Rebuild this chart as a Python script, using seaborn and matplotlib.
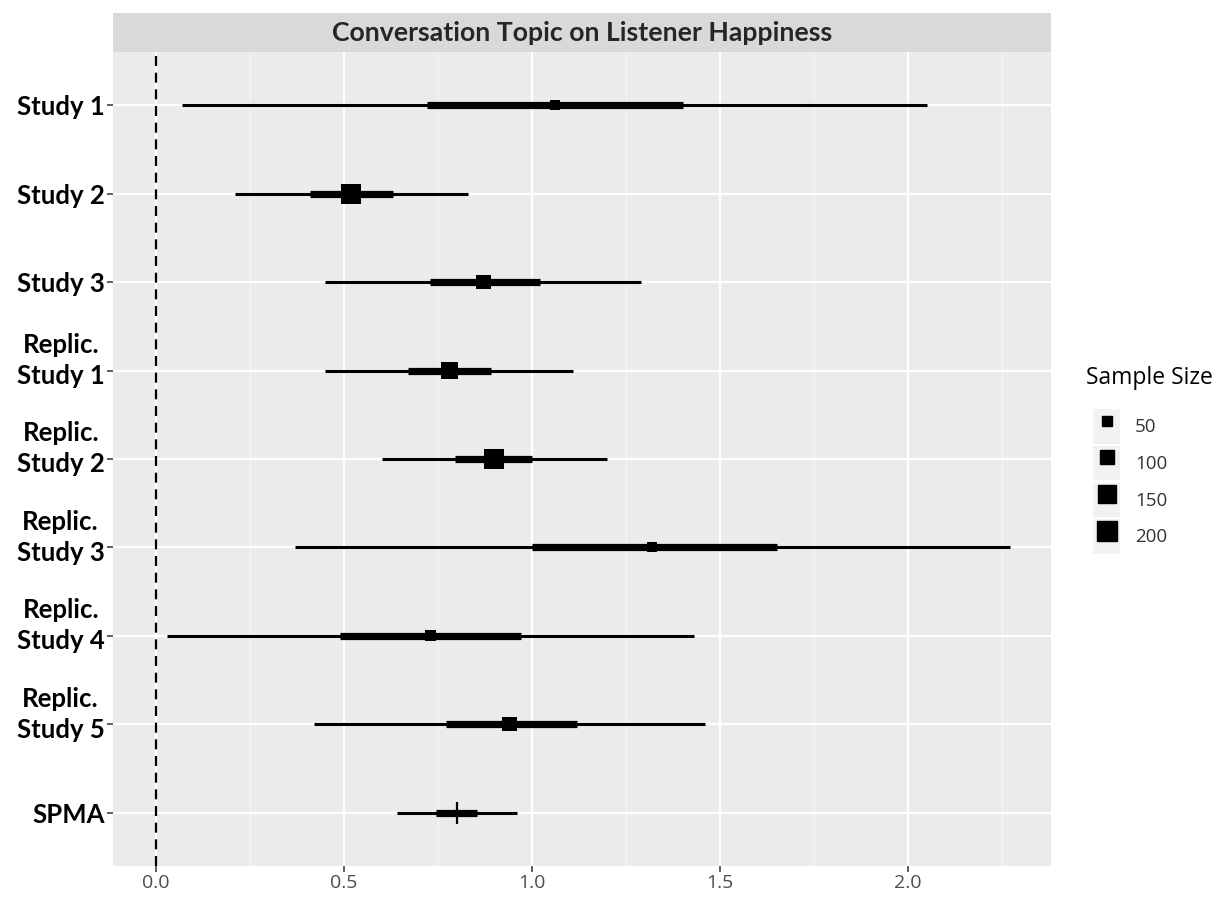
import numpy as np
import pandas as pd
import matplotlib.pyplot as plt
import seaborn as sns
from matplotlib.lines import Line2D
from matplotlib.patches import Rectangle, Patch
from matplotlib.legend_handler import HandlerTuple

# values
studies = ['Study 1', 'Study 2', 'Study 3', 'Replic.\nStudy 1', 'Replic.\nStudy 2',
           'Replic.\nStudy 3', 'Replic.\nStudy 4', 'Replic.\nStudy 5', 'SPMA']
estimate = [1.06, 0.52, 0.87, 0.78, 0.90, 1.32, 0.73, 0.94, 0.80]
ci95_low = [0.07, 0.21, 0.45, 0.45, 0.60, 0.37, 0.03, 0.42, 0.64]
ci95_high = [2.05, 0.83, 1.29, 1.11, 1.20, 2.27, 1.43, 1.46, 0.96]
ci50_low = [0.72, 0.41, 0.73, 0.67, 0.795, 1.00, 0.49, 0.77, 0.745]
ci50_high = [1.40, 0.63, 1.02, 0.89, 1.00, 1.65, 0.97, 1.12, 0.855]
sample_size = [40, 200, 110, 150, 210, 50, 60, 100, np.nan]
legend_sizes = [50, 100, 150, 200]
x_ticks = [0.0, 0.5, 1.0, 1.5, 2.0]

df = pd.DataFrame({'study': studies, 'est': estimate, 'lo95': ci95_low, 'hi95': ci95_high,
                   'lo50': ci50_low, 'hi50': ci50_high, 'n': sample_size})
df['pos'] = np.arange(len(df))
studies_df = df[df['study'] != 'SPMA']
spma_df = df[df['study'] == 'SPMA']

sns.set_theme(style='darkgrid')
fig = plt.figure(figsize=(12.25, 8.97), dpi=100)
ax = fig.add_axes([0.0922, 0.0346, 0.7659, 0.9074])
ax.set_facecolor('#EBEBEB')

size_range = (52, 207)
size_norm = (50, 200)

def marker_area(n):
    return size_range[0] + (n - size_norm[0]) / (size_norm[1] - size_norm[0]) * (size_range[1] - size_range[0])

ax.axvline(0, color='black', linestyle=(0, (4.5, 3)), linewidth=1.6, zorder=2)
ax.hlines(df['pos'], df['lo95'], df['hi95'], color='black', linewidth=2.2, zorder=3)
ax.hlines(df['pos'], df['lo50'], df['hi50'], color='black', linewidth=5.2, zorder=3)
sns.scatterplot(data=studies_df, x='est', y='pos', size='n', sizes=size_range, size_norm=size_norm,
                marker='s', color='black', linewidth=0, legend=False, ax=ax, zorder=4)
ax.plot(spma_df['est'], spma_df['pos'], marker='+', linestyle='', color='black',
        markersize=16, markeredgewidth=1.6, zorder=4)

# axes and grid
ax.set_xlim(-0.114, 2.38)
ax.set_ylim(len(df) - 0.4, -0.6)
ax.set_xticks(x_ticks)
ax.set_xticks([0.25, 0.75, 1.25, 1.75, 2.25], minor=True)
ax.set_xticklabels([f'{t:.1f}' for t in x_ticks], fontsize=14, color='#4D4D4D', family='Open Sans')
ax.set_yticks(df['pos'])
labels = [s + '\n' if '\n' in s else s for s in studies]
ax.set_yticklabels(labels, fontsize=18.5, fontweight='bold', family='Lato', color='black')
for lab in ax.get_yticklabels():
    lab.set_multialignment('center')
    lab.set_linespacing(1.35)
ax.grid(which='major', color='white', linewidth=1.6)
ax.grid(which='minor', axis='x', color='#F5F5F5', linewidth=0.8)
ax.tick_params(axis='both', which='major', length=4, width=1.1, color='#333333', pad=2, bottom=True, left=True)
ax.tick_params(axis='both', which='minor', length=0)
ax.set_xlabel('')
ax.set_ylabel('')
for sp in ax.spines.values():
    sp.set_visible(False)

# facet-style strip title
strip_h = 39 / 814
ax.add_patch(Rectangle((0, 1), 1, strip_h, transform=ax.transAxes, facecolor='#D9D9D9',
                       edgecolor='none', clip_on=False))
ax.text(0.5, 1 + strip_h / 2, 'Conversation Topic on Listener Happiness', transform=ax.transAxes,
        ha='center', va='center', fontsize=19.2, fontweight='bold', family='Lato')

# size legend with grey key backgrounds
fig.text(1086 / 1225, 1 - 378 / 897, 'Sample Size', ha='left', va='center', fontsize=16.5,
         family='Open Sans', color='black')
handles = [(Patch(facecolor='#F2F2F2', edgecolor='none'),
            Line2D([], [], marker='s', linestyle='', color='black', markersize=np.sqrt(marker_area(n))))
           for n in legend_sizes]
leg = fig.legend(handles, [str(n) for n in legend_sizes], loc='upper left',
                 bbox_to_anchor=(0.8785, 0.5625), frameon=False, fontsize=13.5,
                 labelspacing=0.12, handletextpad=0.8, handlelength=1.45, handleheight=2.45,
                 alignment='left', handler_map={tuple: HandlerTuple(ndivide=1, pad=0)})
for t in leg.get_texts():
    t.set_color('#333333')
    t.set_family('Open Sans')

if __name__ == "__main__":
    plt.savefig('out.png')
